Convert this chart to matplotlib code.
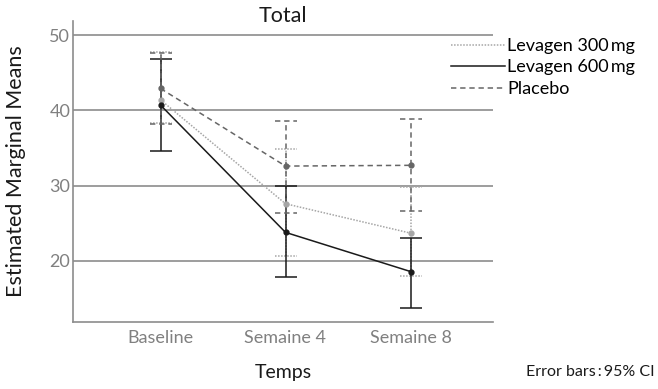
import numpy as np
import matplotlib
matplotlib.use('Agg')
import matplotlib.pyplot as plt

plt.rcParams['font.family'] = ['Lato', 'DejaVu Sans']

temps = ['Baseline', 'Semaine 4', 'Semaine 8']
series = ['Levagen 300\u2009mg', 'Levagen 600\u2009mg', 'Placebo']

# means and 95% CI bounds
l300_mean = [41.4, 27.6, 23.7]
l300_low = [38.3, 20.6, 18.0]
l300_high = [47.8, 34.9, 29.8]

l600_mean = [40.7, 23.8, 18.6]
l600_low = [34.6, 17.9, 13.8]
l600_high = [46.8, 29.9, 23.1]

plac_mean = [42.9, 32.6, 32.7]
plac_low = [38.2, 26.4, 26.6]
plac_high = [47.6, 38.6, 38.9]

fig = plt.figure(figsize=(6.58, 3.89), dpi=100)
ax = fig.add_axes([73 / 658, 1 - 322 / 389, 420 / 658, 301 / 389])

x = np.arange(len(temps))
grey = '#8c8c8c'
cap = 0.088  # half width of the caps, in category units

styles = [
    (l300_mean, l300_low, l300_high, '#a6a6a6', (0, (1, 1))),
    (l600_mean, l600_low, l600_high, '#1a1a1a', '-'),
    (plac_mean, plac_low, plac_high, '#666666', (0, (3.5, 2.5))),
]
handles = []
for (m, lo, hi, col, ls), name in zip(styles, series):
    ax.plot(x, m, color=col, linestyle=ls, lw=1.1, marker='o', ms=3.5, zorder=3)
    ax.vlines(x, lo, hi, colors=col, linestyles=[ls], lw=1.1, zorder=2)
    ax.hlines(lo, x - cap, x + cap, colors=col, linestyles=[ls], lw=1.1, zorder=2)
    ax.hlines(hi, x - cap, x + cap, colors=col, linestyles=[ls], lw=1.1, zorder=2)
    handles.append(plt.Line2D([], [], color=col, linestyle=ls, lw=1.1))

ax.set_xlim(-0.7, 2.66)
ax.set_ylim(11.9, 51.86)
ax.set_yticks([20, 30, 40, 50])
ax.set_xticks(x)
ax.set_xticklabels(temps)
ax.yaxis.grid(True, color=grey, lw=1.2)
ax.set_axisbelow(True)
for s in ['top', 'right']:
    ax.spines[s].set_visible(False)
for s in ['left', 'bottom']:
    ax.spines[s].set_color(grey)
    ax.spines[s].set_linewidth(1.2)
ax.tick_params(length=0, labelsize=13, labelcolor='#808080')
ax.tick_params(axis='y', pad=2)
ax.tick_params(axis='x', pad=6)

# title sits a little inside the top of the axes box
fig.text(283 / 658, 1 - 16 / 389, 'Total', ha='center', va='center', fontsize=15.5, color='#1a1a1a')
ax.set_ylabel('Estimated Marginal Means', fontsize=15.5, color='#1a1a1a', labelpad=17)
ax.set_xlabel('Temps', fontsize=14, color='#1a1a1a', labelpad=13)
fig.text(0.995, 1 - 372 / 389, 'Error bars\u2009:\u200995% CI', ha='right', va='center', fontsize=11.5, color='#1a1a1a')

fig.legend(handles, series, loc='upper left', bbox_to_anchor=(451 / 658, 1 - 38 / 389),
           frameon=False, fontsize=13, handlelength=3.0, handletextpad=0.1,
           labelspacing=0.3, borderaxespad=0, borderpad=0)

fig.savefig('out.png', dpi=100)
